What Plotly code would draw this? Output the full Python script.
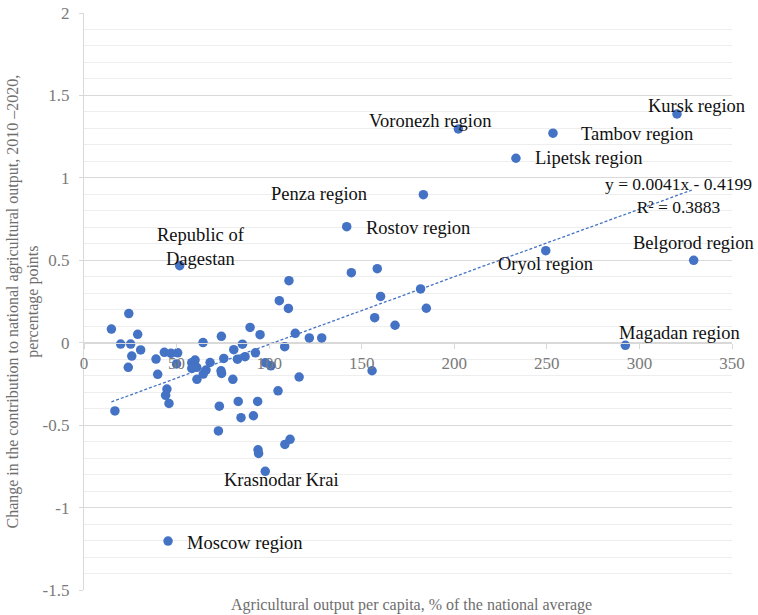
import plotly.graph_objects as go

# ---------------- data ----------------
labeled_names = ["Kursk region", "Voronezh region", "Tambov region", "Lipetsk region",
                 "Penza region", "Rostov region", "Oryol region", "Belgorod region",
                 "Magadan region", "Republic of<br>Dagestan", "Krasnodar Krai", "Moscow region"]
labeled_x = [320.3, 202.2, 253.3, 233.3, 183.3, 141.9, 249.4, 329.3, 292.4, 51.7, 97.9, 45.4]
labeled_y = [1.388, 1.297, 1.271, 1.119, 0.898, 0.704, 0.558, 0.500, -0.016, 0.467, -0.780, -1.203]

other_x = [144.4, 158.4, 181.8, 160.2, 184.9, 157.0, 168.0, 121.7, 128.4, 155.6, 116.2,
           110.7, 105.5, 110.4, 89.7, 95.1, 74.2, 114.1, 64.3, 85.6, 80.9, 108.4, 92.6,
           87.0, 82.9, 75.5, 68.1, 97.9, 100.9, 74.0, 74.3, 80.4, 104.8, 73.1, 83.3, 93.8,
           84.8, 91.5, 72.6, 94.0, 94.3, 108.5, 111.3,
           24.2, 14.8, 29.0, 19.8, 25.2, 30.6, 25.8, 23.9, 16.7, 38.9, 39.8, 43.4, 47.0,
           50.6, 50.0, 44.8, 44.1, 45.9, 58.2, 60.0, 60.9, 58.2, 61.0, 64.4, 65.9]
other_y = [0.425, 0.449, 0.326, 0.281, 0.209, 0.152, 0.106, 0.029, 0.029, -0.170, -0.208,
           0.376, 0.255, 0.208, 0.093, 0.049, 0.039, 0.057, 0.001, -0.009, -0.042, -0.024, -0.061,
           -0.085, -0.100, -0.095, -0.120, -0.121, -0.140, -0.170, -0.186, -0.222, -0.292, -0.385,
           -0.356, -0.356, -0.455, -0.443, -0.535, -0.650, -0.672, -0.617, -0.586,
           0.177, 0.083, 0.051, -0.008, -0.008, -0.044, -0.081, -0.149, -0.414, -0.099, -0.192,
           -0.058, -0.064, -0.061, -0.129, -0.281, -0.319, -0.368, -0.121, -0.105, -0.149, -0.155,
           -0.222, -0.190, -0.166]

TREND_SLOPE = 0.0041
TREND_INTERCEPT = -0.4199
R_SQUARED = 0.3883

x_tick_vals = [0, 50, 100, 150, 200, 250, 300, 350]
y_tick_vals = [-1.5, -1, -0.5, 0, 0.5, 1, 1.5, 2]
y_tick_text = ["-1.5", "-1", "-0.5", "0", "0.5", "1", "1.5", "2"]

x_title = "Agricultural output per capita, % of the national average"
y_title = "Change in the contribution to national agricultural output, 2010 \u20132020,<br>percentage points"

# ---------------- styles ----------------
BLUE = "#4472C4"
SERIF = "Liberation Serif"
GRID = "#d9d9d9"
MINOR = "#eeeeee"
TICK_GRAY = "#7a7a7a"

# label placement: (xanchor, xshift px, yshift px)
label_place = {
    "Kursk region": ("center", 19, 7.5),
    "Voronezh region": ("center", -28, 8),
    "Tambov region": ("left", 26, -1),
    "Lipetsk region": ("left", 17, 0),
    "Penza region": ("right", -54, 1),
    "Rostov region": ("left", 17, -1),
    "Oryol region": ("center", 0, -13),
    "Belgorod region": ("right", 62, 17),
    "Magadan region": ("center", 54, 12),
    "Republic of<br>Dagestan": ("center", 21, 19),
    "Krasnodar Krai": ("center", 16, -9),
    "Moscow region": ("left", 17, -2),
}

all_x = labeled_x + other_x
all_y = labeled_y + other_y

fig = go.Figure()

tx = [min(all_x), max(all_x)]
ty = [TREND_SLOPE * v + TREND_INTERCEPT for v in tx]
fig.add_trace(go.Scatter(x=tx, y=ty, mode="lines",
                         line=dict(color=BLUE, width=1.3, dash="3px,2px"),
                         hoverinfo="skip"))

fig.add_trace(go.Scatter(x=all_x, y=all_y, mode="markers",
                         marker=dict(color=BLUE, size=9.5, line=dict(width=0))))

annotations = []
for name, x, y in zip(labeled_names, labeled_x, labeled_y):
    xa, dx, dy = label_place[name]
    annotations.append(dict(x=x, y=y, xref="x", yref="y", text=name, showarrow=False,
                            xanchor=xa, yanchor="middle", xshift=dx, yshift=dy,
                            align="center",
                            font=dict(family=SERIF, size=18.5, color="#111111")))

annotations.append(dict(x=tx[1], y=ty[1], xref="x", yref="y",
                        text=f"y = {TREND_SLOPE}x - {abs(TREND_INTERCEPT)}<br>R\u00b2 = {R_SQUARED}",
                        showarrow=False, xanchor="center", yanchor="middle",
                        xshift=-15, yshift=-6, align="center",
                        font=dict(family=SERIF, size=17.5, color="#111111")))

annotations.append(dict(x=0.506, y=0, xref="paper", yref="paper", text=x_title,
                        showarrow=False, xanchor="center", yanchor="middle", yshift=-15,
                        font=dict(family=SERIF, size=16, color="#6e6e6e")))
annotations.append(dict(x=0, y=0.5, xref="paper", yref="paper", text=y_title,
                        showarrow=False, xanchor="center", yanchor="middle", xshift=-61,
                        textangle=-90, align="center",
                        font=dict(family=SERIF, size=16, color="#6e6e6e")))

fig.update_layout(
    width=758, height=615,
    margin=dict(l=84, r=26, t=13, b=25, autoexpand=False),
    plot_bgcolor="white", paper_bgcolor="white",
    showlegend=False,
    annotations=annotations,
    xaxis=dict(range=[0, 350], tickmode="array", tickvals=x_tick_vals,
               anchor="free", position=1.5 / 3.5, automargin=False,
               showline=True, linecolor=GRID, linewidth=1.3,
               ticks="outside", ticklen=5, tickcolor=GRID,
               showgrid=False, zeroline=False,
               ticklabelstandoff=0,
               tickfont=dict(family=SERIF, size=17, color=TICK_GRAY)),
    yaxis=dict(range=[-1.5, 2], tickmode="array", tickvals=y_tick_vals, ticktext=y_tick_text,
               automargin=False,
               showline=True, linecolor=GRID, linewidth=1.3,
               ticks="outside", ticklen=4, tickcolor=GRID,
               showgrid=True, gridcolor=GRID, gridwidth=1,
               zeroline=False,
               ticklabelstandoff=6,
               minor=dict(tickmode="linear", tick0=0, dtick=0.1, showgrid=True,
                          gridcolor=MINOR, gridwidth=1, ticks=""),
               tickfont=dict(family=SERIF, size=17, color=TICK_GRAY)),
)

fig.write_html("out.html", config={"displayModeBar": False},
               post_script="document.body.style.margin='0';")
